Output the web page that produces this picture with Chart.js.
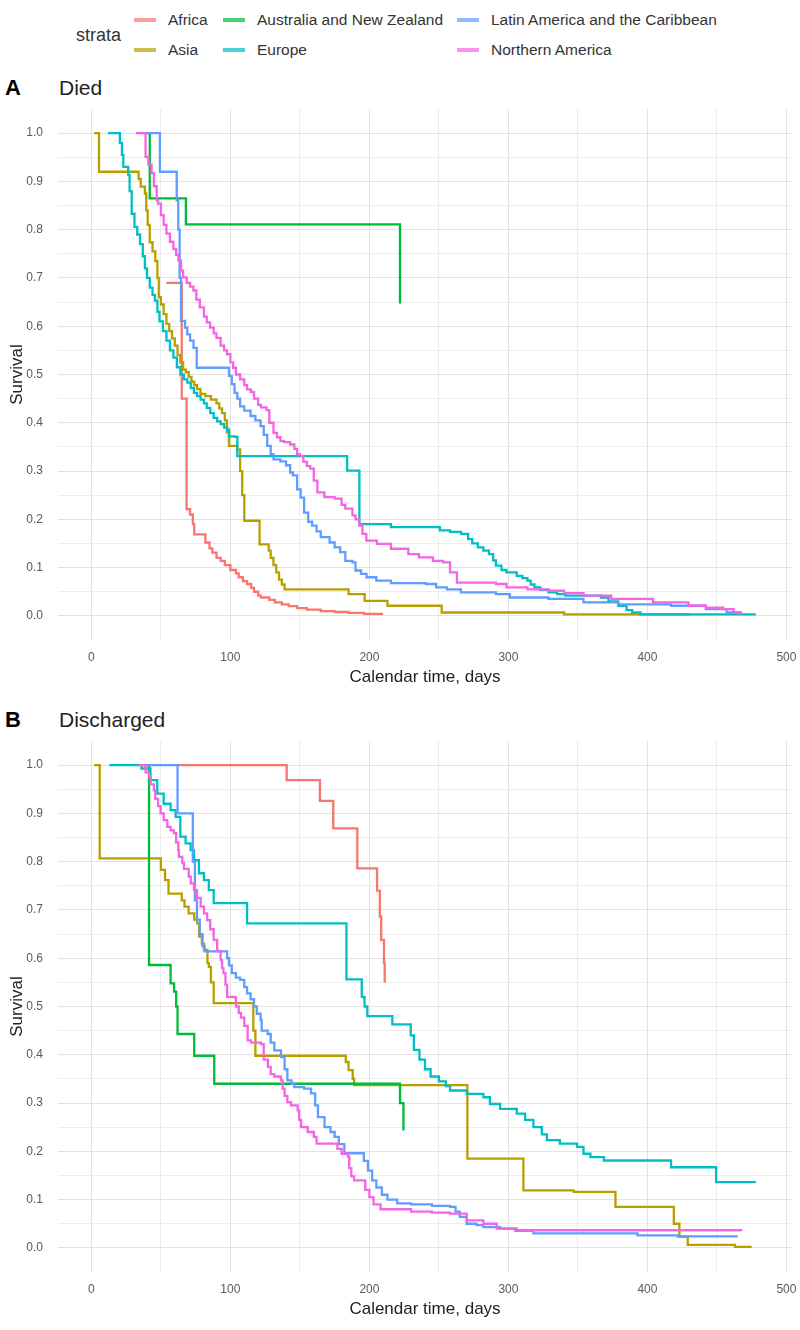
<!DOCTYPE html>
<html>
<head>
<meta charset="utf-8">
<script src="https://cdn.jsdelivr.net/npm/chart.js@4.4.1/dist/chart.umd.min.js"></script>
<style>
body{margin:0;background:#fff;font-family:"Liberation Sans",Arial,sans-serif;}
#page{position:relative;width:800px;height:1330px;overflow:hidden;background:#fff;}
.lg{position:absolute;font-size:15.5px;color:#333;white-space:nowrap;line-height:18px;}
.key{position:absolute;width:22px;height:4px;opacity:0.7;}
.tag{position:absolute;font-size:22px;font-weight:bold;color:#000;line-height:26px;}
.ttl{position:absolute;font-size:21px;color:#222;line-height:26px;}
canvas{position:absolute;left:0;}
</style>
</head>
<body>
<div id="page">
  <div class="lg" style="left:76px;top:24px;font-size:18px;line-height:22px;">strata</div>
  <div id="legend"></div>
  <div class="tag" style="left:5px;top:75px;">A</div>
  <div class="ttl" style="left:59px;top:75px;">Died</div>
  <div class="tag" style="left:5px;top:707px;">B</div>
  <div class="ttl" style="left:59px;top:707px;">Discharged</div>
  <canvas id="died" width="800" height="591" style="top:100px"></canvas>
  <canvas id="disch" width="800" height="593" style="top:730px"></canvas>
</div>
<script>
var STRATA = ["Africa", "Asia", "Australia and New Zealand", "Europe", "Latin America and the Caribbean", "Northern America"];
var COLORS = ["#F8766D", "#B79F00", "#00BA38", "#00BFC4", "#619CFF", "#F564E3"];

var X_TICKS = [0, 50, 100, 150, 200, 250, 300, 350, 400, 450, 500];
var X_LABELS = [0, 100, 200, 300, 400, 500];
var Y_TICKS = [0, 0.05, 0.1, 0.15, 0.2, 0.25, 0.3, 0.35, 0.4, 0.45, 0.5, 0.55, 0.6, 0.65, 0.7, 0.75, 0.8, 0.85, 0.9, 0.95, 1];
var Y_LABELS = [0, 0.1, 0.2, 0.3, 0.4, 0.5, 0.6, 0.7, 0.8, 0.9, 1];

// panel A - died  [day, survival]
var A_AFRICA = [[54,0.69],[65,0.45],[68.5,0.221],[71,0.21],[73,0.19],[74,0.169],[82,0.152],[85,0.14],[87,0.131],[90,0.12],[93,0.114],[96,0.105],[100,0.095],[104,0.088],[106,0.08],[109,0.072],[112,0.066],[115,0.058],[117,0.05],[120,0.042],[122,0.038],[128,0.033],[132,0.028],[137,0.024],[142,0.02],[148,0.016],[155,0.013],[165,0.01],[175,0.008],[185,0.006],[196,0.004],[209,0.002]];
var A_ASIA = [[2,1],[5.5,0.92],[34,0.905],[35.5,0.889],[38.5,0.875],[39.5,0.84],[40.5,0.81],[42,0.774],[44,0.755],[46,0.735],[47.5,0.7],[48.5,0.66],[50,0.645],[52,0.625],[54,0.605],[56,0.59],[58,0.575],[60,0.56],[62,0.54],[64,0.525],[66,0.51],[68,0.505],[70,0.495],[72,0.485],[74,0.478],[76,0.47],[78.5,0.46],[82,0.455],[86,0.448],[90,0.44],[92,0.43],[94,0.42],[96,0.405],[97.5,0.38],[99,0.352],[105,0.345],[107,0.3],[108.5,0.25],[110,0.197],[121,0.148],[127.6,0.135],[129,0.12],[131,0.105],[133,0.09],[135,0.075],[137,0.065],[139,0.055],[185,0.045],[196.6,0.031],[213,0.021],[252,0.007],[340,0.003],[430,0.003]];
var A_AUSNZ = [[40,1],[42,0.865],[68,0.811],[222,0.647]];
var A_EUROPE = [[12,1],[20.5,0.98],[22,0.955],[23,0.93],[26.5,0.913],[27.5,0.88],[29,0.833],[31,0.806],[33,0.79],[35,0.77],[37,0.745],[38.5,0.72],[40,0.7],[42,0.68],[44,0.665],[45.7,0.653],[47.5,0.63],[49,0.61],[51.5,0.59],[54,0.57],[56.5,0.55],[59,0.535],[61.5,0.515],[64,0.5],[66.5,0.49],[69,0.483],[71.5,0.472],[73.8,0.462],[76,0.455],[78.6,0.448],[81,0.44],[83,0.431],[85.5,0.42],[88,0.41],[90.5,0.403],[93,0.397],[95.5,0.39],[97.7,0.386],[99,0.372],[103,0.371],[105,0.331],[184,0.301],[192.8,0.19],[215.5,0.184],[250.7,0.177],[258,0.174],[266,0.17],[271,0.159],[274,0.15],[278,0.142],[282,0.135],[286,0.128],[289,0.115],[291,0.104],[295,0.095],[298.6,0.09],[306,0.083],[310,0.078],[313.7,0.073],[316,0.065],[318.7,0.059],[323,0.054],[328.8,0.0485],[335,0.045],[341,0.042],[366.5,0.038],[372,0.03],[379,0.021],[385,0.012],[389,0.007],[395,0.003],[478,0.003]];
var A_LATAM = [[38,1],[49.3,0.92],[61.4,0.861],[62.5,0.8],[63.5,0.7],[64.5,0.611],[67.4,0.597],[69,0.583],[71,0.57],[73.5,0.555],[75.8,0.514],[99,0.497],[101,0.48],[103,0.462],[105,0.45],[107,0.434],[110,0.425],[114.5,0.414],[118,0.405],[121.7,0.393],[124,0.375],[126.5,0.352],[129,0.335],[131,0.324],[136,0.32],[140,0.312],[143,0.297],[145,0.291],[148,0.262],[150.5,0.245],[153,0.214],[156,0.195],[158.8,0.187],[162,0.175],[165,0.163],[171.4,0.152],[175,0.142],[179,0.132],[182.7,0.114],[187.8,0.111],[190,0.094],[194,0.087],[198,0.08],[205,0.073],[215.5,0.068],[240.6,0.066],[248,0.059],[255.8,0.055],[265.8,0.0485],[291,0.045],[301,0.038],[328.8,0.035],[354,0.028],[379,0.024],[417,0.021],[442,0.014],[457,0.007],[467,0.003]];
var A_NORTHAM = [[32,1],[39,0.951],[41,0.935],[43.3,0.917],[45,0.89],[47,0.861],[48,0.854],[50,0.83],[52,0.81],[54,0.792],[56.5,0.775],[59,0.76],[61,0.748],[62.6,0.736],[64.5,0.715],[66,0.701],[68.6,0.69],[71,0.682],[73.4,0.674],[75.5,0.655],[78,0.639],[81,0.62],[83,0.608],[85.4,0.597],[88,0.585],[90,0.576],[93,0.56],[95.5,0.55],[97.5,0.542],[100,0.525],[102,0.514],[104,0.5],[107,0.49],[110,0.478],[112,0.469],[114.7,0.464],[117,0.45],[120,0.437],[122,0.432],[126,0.426],[128,0.4],[131,0.379],[133.5,0.37],[136,0.362],[138.7,0.36],[143,0.355],[146,0.346],[148,0.335],[150,0.331],[152.5,0.319],[155,0.31],[157.5,0.305],[160,0.28],[162.6,0.256],[167.6,0.246],[175,0.243],[180,0.23],[182.7,0.222],[187.8,0.208],[190,0.2],[192.8,0.187],[195,0.17],[197.8,0.156],[205.4,0.149],[215.5,0.139],[228,0.128],[235.6,0.121],[245.7,0.114],[253,0.111],[258,0.09],[263,0.069],[291,0.066],[298.6,0.059],[313.7,0.055],[328.8,0.052],[340,0.047],[354,0.042],[374,0.035],[404,0.028],[429.5,0.021],[442,0.017],[454.7,0.014],[462,0.007],[467,0.003]];

// panel B - discharged
var B_AFRICA = [[62,1],[140.5,0.969],[164.4,0.926],[174,0.869],[191.3,0.786],[205.5,0.74],[207.5,0.686],[208.5,0.638],[210.5,0.59],[211,0.549]];
var B_ASIA = [[2,1],[6,0.807],[50,0.783],[53,0.762],[55.5,0.734],[65,0.72],[67,0.707],[70,0.693],[74,0.68],[76,0.672],[77.5,0.645],[79.5,0.63],[81,0.617],[83.5,0.59],[84.5,0.582],[86,0.55],[88,0.507],[116.5,0.45],[118,0.398],[183,0.385],[185,0.368],[188,0.35],[189,0.337],[270.5,0.185],[310.8,0.119],[347,0.116],[377,0.085],[419,0.05],[423,0.023],[429,0.006],[463,0.002],[475,0.002]];
var B_AUSNZ = [[38,1],[41.5,0.586],[57,0.548],[59.5,0.531],[61,0.5],[62,0.443],[74,0.398],[88.4,0.34],[222,0.3],[224.5,0.243]];
var B_EUROPE = [[13,1],[36,0.993],[42.5,0.969],[47.4,0.941],[52,0.92],[57,0.907],[60.6,0.893],[64,0.852],[67.8,0.838],[71.4,0.824],[73.8,0.803],[77.4,0.776],[81,0.762],[84.5,0.741],[88,0.714],[112,0.672],[183.5,0.556],[194.5,0.52],[196.5,0.5],[198.5,0.48],[216.5,0.463],[229.7,0.44],[232,0.41],[236,0.39],[240,0.37],[244,0.355],[250,0.345],[255,0.335],[258,0.326],[270,0.319],[282,0.312],[286.7,0.298],[294,0.288],[306,0.278],[312,0.265],[318,0.25],[324,0.235],[327.7,0.223],[337,0.216],[349.4,0.209],[354,0.195],[359,0.188],[368.7,0.181],[417,0.167],[449.4,0.136],[478,0.136]];
var B_LATAM = [[36,1],[62,0.9],[73,0.8],[74.5,0.72],[76,0.68],[78,0.65],[80,0.625],[81.5,0.614],[97.7,0.6],[99,0.585],[101,0.569],[104,0.56],[107,0.555],[110,0.54],[112,0.527],[114.5,0.515],[117,0.5],[119,0.485],[121.7,0.472],[122.5,0.45],[126.8,0.443],[129,0.425],[131.6,0.409],[136.4,0.395],[139,0.37],[141,0.347],[144,0.34],[146,0.333],[153,0.33],[158,0.32],[161,0.295],[163,0.271],[167.7,0.25],[172,0.24],[175,0.23],[178,0.215],[182,0.196],[196,0.18],[199,0.16],[202,0.14],[205,0.125],[209,0.11],[213,0.1],[220,0.092],[230,0.09],[245,0.087],[258,0.085],[262,0.075],[265,0.064],[270,0.05],[277,0.047],[282,0.043],[294,0.04],[305,0.035],[318,0.03],[392.8,0.026],[421.7,0.024],[465,0.024]];
var B_NORTHAM = [[34,1],[39,0.985],[41.4,0.976],[42.6,0.96],[45,0.948],[46,0.93],[48,0.915],[49.8,0.9],[52,0.886],[54.6,0.872],[57,0.865],[59.4,0.859],[61,0.84],[62.5,0.824],[63,0.81],[65.4,0.797],[66.6,0.785],[70,0.769],[71.5,0.755],[73.8,0.741],[76,0.725],[78.6,0.707],[81,0.693],[83.3,0.679],[85.5,0.66],[88,0.638],[90.5,0.615],[93,0.596],[94,0.58],[95,0.569],[96.5,0.545],[97.7,0.52],[102.8,0.519],[104,0.5],[106,0.487],[107.6,0.477],[110,0.46],[112.4,0.43],[114.8,0.425],[122,0.422],[124,0.39],[127,0.375],[129,0.36],[131.6,0.355],[136.4,0.347],[137.6,0.33],[139,0.315],[141,0.302],[143.6,0.295],[148.4,0.285],[149.5,0.265],[150.8,0.25],[155.6,0.24],[160,0.23],[162,0.216],[177,0.205],[180,0.195],[184.5,0.189],[185.5,0.165],[187,0.148],[189,0.14],[197,0.12],[200,0.105],[203,0.09],[208,0.08],[230,0.075],[245,0.073],[258,0.071],[270,0.057],[282,0.05],[291.6,0.04],[306,0.0365],[467.5,0.035]];

var FONT = '"Liberation Sans", Arial, sans-serif';

// legend, column-major like ggplot
var legX = [134, 223, 457], legY = [20, 50];
var lg = document.getElementById('legend');
STRATA.forEach(function(name, i){
	var c = Math.floor(i / 2), r = i % 2;
	var k = document.createElement('div');
	k.className = 'key';
	k.style.left = legX[c] + 'px';
	k.style.top = (legY[r] - 2) + 'px';
	k.style.background = COLORS[i];
	lg.appendChild(k);
	var t = document.createElement('div');
	t.className = 'lg';
	t.style.left = (legX[c] + 34) + 'px';
	t.style.top = (legY[r] - 9) + 'px';
	t.textContent = name;
	lg.appendChild(t);
});

function makePanel(id, series, padTop){
	return new Chart(document.getElementById(id), {
		type: 'line',
		data: {
			datasets: STRATA.map(function(name, i){
				return {
					label: name,
					data: series[i].map(function(p){ return {x: p[0], y: p[1]}; }),
					borderColor: COLORS[i],
					borderWidth: 2.3,
					pointRadius: 0,
					stepped: true,
					fill: false,
					order: STRATA.length - i
				};
			})
		},
		options: {
			responsive: false,
			animation: false,
			devicePixelRatio: 1,
			layout: { padding: { top: padTop, right: 8, left: 0, bottom: 0 } },
			plugins: { legend: { display: false }, tooltip: { enabled: false } },
			scales: {
				x: {
					type: 'linear', min: -24, max: 504,
					afterBuildTicks: function(ax){ ax.ticks = X_TICKS.map(function(v){ return {value: v}; }); },
					afterFit: function(ax){ ax.height = 51; ax.paddingLeft = 0; ax.paddingRight = 0; },
					border: { display: false },
					grid: {
						drawTicks: false,
						color: function(c){ return X_LABELS.indexOf(c.tick.value) >= 0 ? '#e2e2e2' : '#ececec'; }
					},
					ticks: {
						autoSkip: false, maxRotation: 0, padding: 10, color: '#5a5a5a',
						font: { family: FONT, size: 12 },
						callback: function(v){ return X_LABELS.indexOf(v) >= 0 ? String(v) : ''; }
					},
					title: {
						display: true, text: 'Calendar time, days', color: '#222',
						font: { family: FONT, size: 17 },
						padding: { top: 0, bottom: 3 }
					}
				},
				y: {
					min: -0.05, max: 1.05,
					afterBuildTicks: function(ax){ ax.ticks = Y_TICKS.map(function(v){ return {value: v}; }); },
					afterFit: function(ax){ ax.width = 58; ax.paddingTop = 0; ax.paddingBottom = 0; },
					border: { display: false },
					grid: {
						drawTicks: false,
						color: function(c){ return Y_LABELS.indexOf(c.tick.value) >= 0 ? '#e2e2e2' : '#ececec'; }
					},
					ticks: {
						autoSkip: false, padding: 15, color: '#5a5a5a',
						font: { family: FONT, size: 12 },
						callback: function(v){ return Y_LABELS.indexOf(v) >= 0 ? v.toFixed(1) : ''; }
					},
					title: {
						display: true, text: 'Survival', color: '#222',
						font: { family: FONT, size: 17 },
						padding: { top: 7, bottom: 0 }
					}
				}
			}
		}
	});
}

makePanel('died', [A_AFRICA, A_ASIA, A_AUSNZ, A_EUROPE, A_LATAM, A_NORTHAM], 9);
makePanel('disch', [B_AFRICA, B_ASIA, B_AUSNZ, B_EUROPE, B_LATAM, B_NORTHAM], 11);
</script>
</body>
</html>
